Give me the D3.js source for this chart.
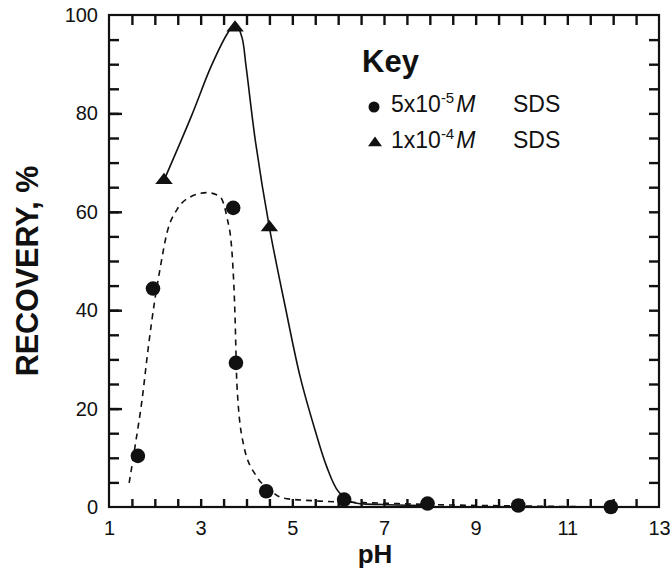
<!DOCTYPE html>
<html>
<head>
<meta charset="utf-8">
<script src="https://cdn.jsdelivr.net/npm/d3@7"></script>
<style>
  html, body { margin: 0; padding: 0; background: #fff; }
  svg { display: block; font-family: "Liberation Sans", Arial, Helvetica, sans-serif; }
</style>
</head>
<body>
<svg id="chart" width="670" height="569"></svg>
<script>
// ---- data ----
const xTickLabels = [1, 3, 5, 7, 9, 11, 13];
const yTickLabels = [0, 20, 40, 60, 80, 100];

// 5x10^-5 M SDS (circles)
const sdsLowPH  = [1.63, 1.96, 3.71, 3.77, 4.43, 6.13, 7.95, 9.93, 11.95];
const sdsLowRec = [10.4, 44.4, 60.8, 29.3, 3.2, 1.5, 0.7, 0.3, 0.0];

// 1x10^-4 M SDS (triangles)
const sdsHighPH  = [2.2, 3.75, 4.5];
const sdsHighRec = [66.4, 97.4, 56.8];

// hand-drawn trend curves (guide points)
const dashCurvePH  = [1.44, 1.59, 1.72, 1.85, 2.0, 2.11, 2.27, 2.48, 2.77, 3.13, 3.42, 3.57, 3.68, 3.75, 3.79, 3.93, 4.22, 4.51, 4.8, 5.6, 6.9, 8.0, 10.0, 12.0];
const dashCurveRec = [4.9, 13.6, 21.7, 31.9, 42.1, 48.2, 55.9, 60.4, 63.0, 63.9, 63.1, 59.0, 52.2, 38.7, 25.1, 12.9, 6.2, 3.5, 1.8, 1.2, 0.8, 0.5, 0.2, 0.0];

const solidCurvePH  = [2.2, 2.8, 3.23, 3.6, 3.76, 3.9, 3.99, 4.2, 4.5, 4.85, 5.17, 5.5, 5.75, 6.0, 6.3, 7.0, 8.0];
const solidCurveRec = [66.4, 79.5, 89.6, 96.5, 98.3, 95.5, 89.6, 74.0, 56.8, 40.5, 26.5, 15.5, 8.2, 3.2, 1.0, 0.5, 0.3];

// ---- chart ----
const svg = d3.select("#chart");
const x = d3.scaleLinear().domain([1, 13]).range([109, 659]);
const y = d3.scaleLinear().domain([0, 100]).range([507, 15]);
const ink = "#111";

const halfSteps = d3.range(1.5, 13, 0.5);
const fiveSteps = d3.range(5, 100, 5);

// inward tick marks via d3 axes
function tickAxis(g) {
  g.select(".domain").remove();
  g.selectAll(".tick text").remove();
  g.selectAll(".tick line").attr("stroke", ink).attr("stroke-width", 2.4);
}
svg.append("g").attr("transform", `translate(0,${y(0)})`)
  .call(d3.axisBottom(x).tickValues(halfSteps).tickSize(-8)).call(tickAxis);
svg.append("g").attr("transform", `translate(0,${y(100)})`)
  .call(d3.axisTop(x).tickValues(halfSteps).tickSize(-10)).call(tickAxis);
svg.append("g").attr("transform", `translate(${x(1)},0)`)
  .call(d3.axisLeft(y).tickValues(fiveSteps).tickSize(-10)).call(tickAxis);
svg.append("g").attr("transform", `translate(${x(1)},0)`)
  .call(d3.axisLeft(y).tickValues(yTickLabels.slice(1, -1)).tickSize(-13)).call(tickAxis);
svg.append("g").attr("transform", `translate(${x(13)},0)`)
  .call(d3.axisRight(y).tickValues(fiveSteps).tickSize(-10)).call(tickAxis);

// tick labels
function styleAxis(g) {
  g.select(".domain").remove();
  g.selectAll(".tick line").remove();
  g.selectAll(".tick text").attr("fill", ink).attr("font-size", 20);
}
svg.append("g").attr("transform", `translate(0,${y(0)})`)
  .call(d3.axisBottom(x).tickValues(xTickLabels).tickSize(0).tickPadding(14).tickFormat(d3.format("d")))
  .call(styleAxis);
svg.append("g").attr("transform", `translate(${x(1)},0)`)
  .call(d3.axisLeft(y).tickValues(yTickLabels).tickSize(0).tickPadding(11).tickFormat(d3.format("d")))
  .call(styleAxis);

// frame
svg.append("rect")
  .attr("x", x(1)).attr("y", y(100))
  .attr("width", x(13) - x(1)).attr("height", y(0) - y(100))
  .attr("fill", "none").attr("stroke", ink).attr("stroke-width", 2.2);

// axis titles
svg.append("text")
  .attr("transform", `translate(38,${(y(0) + y(100)) / 2 + 10}) rotate(-90)`)
  .attr("text-anchor", "middle")
  .attr("font-size", 30.5).attr("font-weight", "bold").attr("fill", ink)
  .text("RECOVERY, %");
svg.append("text")
  .attr("x", 375).attr("y", 563)
  .attr("text-anchor", "middle")
  .attr("font-size", 26).attr("font-weight", "bold").attr("fill", ink)
  .text("pH");

// curves
const dashData = dashCurvePH.map((p, i) => [p, dashCurveRec[i]]);
const solidData = solidCurvePH.map((p, i) => [p, solidCurveRec[i]]);

svg.append("path").datum(dashData)
  .attr("d", d3.line().x(d => x(d[0])).y(d => y(d[1])).curve(d3.curveMonotoneX))
  .attr("fill", "none").attr("stroke", ink).attr("stroke-width", 1.6)
  .attr("stroke-dasharray", "6,5");
svg.append("path").datum(solidData)
  .attr("d", d3.line().x(d => x(d[0])).y(d => y(d[1])).curve(d3.curveCatmullRom.alpha(0.5)))
  .attr("fill", "none").attr("stroke", ink).attr("stroke-width", 1.6);

// markers
svg.append("g").selectAll("circle")
  .data(sdsLowPH.map((p, i) => [p, sdsLowRec[i]]))
  .join("circle")
  .attr("cx", d => x(d[0])).attr("cy", d => y(d[1])).attr("r", 7.3)
  .attr("fill", ink);

const tri = d3.symbol().type(d3.symbolTriangle).size(100);
svg.append("g").selectAll("path")
  .data(sdsHighPH.map((p, i) => [p, sdsHighRec[i]]))
  .join("path")
  .attr("d", tri)
  .attr("transform", d => `translate(${x(d[0])},${y(d[1])}) scale(1.15,0.85)`)
  .attr("fill", ink);

// legend
const key = svg.append("g");
key.append("text").attr("x", 362).attr("y", 72)
  .attr("font-size", 31).attr("font-weight", "bold").attr("fill", ink).text("Key");

const legendRows = [
  { mark: "circle", coef: "5x10", exp: "-5", y: 112 },
  { mark: "triangle", coef: "1x10", exp: "-4", y: 148 }
];
legendRows.forEach(r => {
  if (r.mark === "circle") {
    key.append("circle").attr("cx", 374).attr("cy", r.y - 5).attr("r", 5.5).attr("fill", ink);
  } else {
    key.append("path").attr("d", d3.symbol().type(d3.symbolTriangle).size(70))
      .attr("transform", `translate(375,${r.y - 5}) scale(1.1,0.9)`).attr("fill", ink);
  }
  const t = key.append("text").attr("x", 391).attr("y", r.y)
    .attr("font-size", 23).attr("fill", ink);
  t.append("tspan").text(r.coef);
  t.append("tspan").attr("font-size", 15).attr("dy", -9).text(r.exp);
  t.append("tspan").attr("dy", 9).attr("dx", 2).attr("font-style", "italic").text("M");
  t.append("tspan").attr("x", 513).text("SDS");
});
</script>
</body>
</html>
